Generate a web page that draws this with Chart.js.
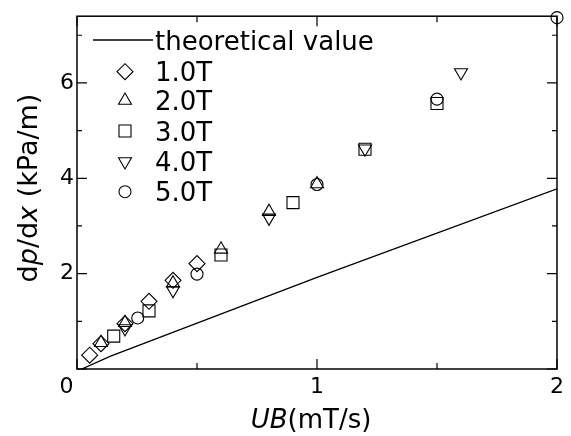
<!DOCTYPE html>
<html>
<head>
<meta charset="utf-8">
<script src="https://cdn.jsdelivr.net/npm/chart.js@4"></script>
<style>
  html, body { margin: 0; padding: 0; background: #fff; }
  #wrap { width: 571px; height: 436px; }
</style>
</head>
<body>
<div id="wrap"><canvas id="chart" width="571" height="436"></canvas></div>
<script>
// theoretical curve
const theoryX = [0.02, 0.14, 1.0, 2.0];
const theoryY = [0.0, 0.27, 1.92, 3.78];

// measured points, one pair of arrays per field strength
const t1X = [0.053, 0.10, 0.20, 0.30, 0.40, 0.50];
const t1Y = [0.29, 0.53, 0.95, 1.42, 1.86, 2.21];

const t2X = [0.10, 0.20, 0.40, 0.60, 0.80, 1.00];
const t2Y = [0.55, 0.97, 1.80, 2.51, 3.30, 3.88];

const t3X = [0.153, 0.30, 0.60, 0.90, 1.20, 1.50];
const t3Y = [0.69, 1.22, 2.39, 3.49, 4.61, 5.57];

const t4X = [0.20, 0.40, 0.80, 1.20, 1.60];
const t4Y = [0.85, 1.65, 3.17, 4.62, 6.22];

const t5X = [0.253, 0.50, 1.00, 1.50, 2.00];
const t5Y = [1.07, 1.99, 3.87, 5.66, 7.37];

const seriesLabels = ["theoretical value", "1.0T", "2.0T", "3.0T", "4.0T", "5.0T"];

const xMajorTicks = [0, 1, 2];
const yMajorTicks = [2, 4, 6];

const FONT = "'DejaVu Sans', sans-serif";

function toPoints(xs, ys) {
  return xs.map((x, i) => ({ x, y: ys[i] }));
}

const markers = [
  { style: "rectRot", radius: 8, rotation: 0 },
  { style: "triangle", radius: 7.5, rotation: 0 },
  { style: "rect", radius: 8.5, rotation: 0 },
  { style: "triangle", radius: 7.5, rotation: 180 },
  { style: "circle", radius: 6, rotation: 0 }
];

function markerDataset(label, points, marker) {
  return {
    type: "scatter",
    label,
    data: points,
    pointStyle: marker.style,
    pointRadius: marker.radius,
    pointRotation: marker.rotation,
    pointBorderWidth: 1.1,
    pointBorderColor: "#000",
    pointBackgroundColor: "rgba(0,0,0,0)",
    pointHoverRadius: marker.radius,
    clip: false
  };
}

// frame, inward ticks, legend and mixed-style axis titles
const decorations = {
  id: "decorations",
  afterDraw(chart) {
    const { ctx, chartArea: area, scales } = chart;
    ctx.save();
    ctx.strokeStyle = "#000";
    ctx.lineWidth = 1.5;
    ctx.strokeRect(area.left, area.top, area.right - area.left, area.bottom - area.top);

    ctx.lineWidth = 1.2;
    ctx.beginPath();
    scales.x.ticks.forEach((t) => {
      const px = scales.x.getPixelForValue(t.value);
      const len = Number.isInteger(t.value) ? 10 : 6;
      ctx.moveTo(px, area.bottom);
      ctx.lineTo(px, area.bottom - len);
      ctx.moveTo(px, area.top);
      ctx.lineTo(px, area.top + len);
    });
    scales.y.ticks.forEach((t) => {
      const py = scales.y.getPixelForValue(t.value);
      const len = t.value % 2 === 0 ? 10 : 5;
      ctx.moveTo(area.left, py);
      ctx.lineTo(area.left + len, py);
      ctx.moveTo(area.right, py);
      ctx.lineTo(area.right - len, py);
    });
    ctx.stroke();

    // legend
    ctx.fillStyle = "#000";
    ctx.font = "26px " + FONT;
    ctx.textAlign = "left";
    ctx.textBaseline = "alphabetic";
    ctx.lineWidth = 1.3;
    ctx.beginPath();
    ctx.moveTo(93, 40);
    ctx.lineTo(153, 40);
    ctx.stroke();
    ctx.fillText(seriesLabels[0], 155, 49.5);

    const rowY = [71.7, 100.5, 131, 161.5, 191.7];
    markers.forEach((m, i) => {
      const y = rowY[i];
      ctx.save();
      ctx.fillStyle = "rgba(0,0,0,0)";
      ctx.strokeStyle = "#000";
      ctx.lineWidth = 1.1;
      if (Chart.helpers && Chart.helpers.drawPoint) {
        Chart.helpers.drawPoint(ctx, {
          pointStyle: m.style,
          radius: m.radius,
          rotation: m.rotation,
          borderWidth: 1.1
        }, 125, y);
      }
      ctx.restore();
      ctx.fillStyle = "#000";
      ctx.fillText(seriesLabels[i + 1], 155, y + 9.5);
    });

    // x axis title: UB(mT/s)
    drawMixed(ctx, [["UB", true], ["(mT/s)", false]], 26, 311, 428, 0);
    // y axis title: dp/dx (kPa/m)
    drawMixed(ctx, [["d", false], ["p", true], ["/d", false], ["x", true], [" (kPa/m)", false]], 27, 37, 188, -Math.PI / 2);
    ctx.restore();
  }
};

function drawMixed(ctx, parts, size, cx, baseY, angle) {
  const fonts = parts.map(([, italic]) => (italic ? "italic " : "") + size + "px " + FONT);
  let total = 0;
  const widths = parts.map(([text], i) => {
    ctx.font = fonts[i];
    const w = ctx.measureText(text).width;
    total += w;
    return w;
  });
  ctx.save();
  ctx.translate(cx, baseY);
  ctx.rotate(angle);
  ctx.textAlign = "left";
  ctx.textBaseline = "alphabetic";
  ctx.fillStyle = "#000";
  let x = -total / 2;
  parts.forEach(([text], i) => {
    ctx.font = fonts[i];
    ctx.fillText(text, x, 0);
    x += widths[i];
  });
  ctx.restore();
}

new Chart(document.getElementById("chart"), {
  data: {
    datasets: [
      {
        type: "line",
        label: seriesLabels[0],
        data: toPoints(theoryX, theoryY),
        borderColor: "#000",
        borderWidth: 1.3,
        pointRadius: 0,
        fill: false,
        tension: 0
      },
      markerDataset(seriesLabels[1], toPoints(t1X, t1Y), markers[0]),
      markerDataset(seriesLabels[2], toPoints(t2X, t2Y), markers[1]),
      markerDataset(seriesLabels[3], toPoints(t3X, t3Y), markers[2]),
      markerDataset(seriesLabels[4], toPoints(t4X, t4Y), markers[3]),
      markerDataset(seriesLabels[5], toPoints(t5X, t5Y), markers[4])
    ]
  },
  options: {
    responsive: false,
    animation: false,
    layout: { padding: { top: 10, right: 14, left: 0, bottom: 0 } },
    plugins: {
      legend: { display: false },
      tooltip: { enabled: false }
    },
    scales: {
      x: {
        type: "linear",
        min: 0,
        max: 2,
        grid: { display: false, drawTicks: false },
        border: { display: false },
        ticks: {
          stepSize: 0.5,
          padding: 5,
          maxRotation: 0,
          autoSkip: false,
          color: "#000",
          font: { family: FONT, size: 22 },
          callback: (v) => (xMajorTicks.includes(v) ? (v === 0 ? "0   " : String(v)) : "")
        },
        afterFit: (s) => { s.height = 67; }
      },
      y: {
        type: "linear",
        min: 0,
        max: 7.4,
        grid: { display: false, drawTicks: false },
        border: { display: false },
        ticks: {
          stepSize: 1,
          includeBounds: false,
          padding: 3,
          autoSkip: false,
          color: "#000",
          font: { family: FONT, size: 22 },
          callback: (v) => (yMajorTicks.includes(v) ? String(v) : "")
        },
        afterFit: (s) => { s.width = 77; }
      }
    }
  },
  plugins: [decorations]
});
</script>
</body>
</html>
